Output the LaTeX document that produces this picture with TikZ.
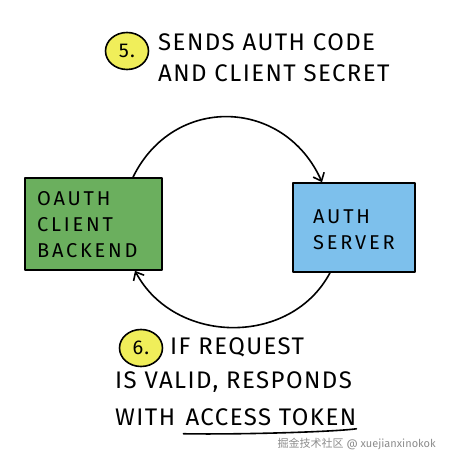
\documentclass[tikz,border=0pt]{standalone}
\usepackage{fontspec}
\setmainfont{Fira Sans}
\newfontfamily\notefont[LetterSpace=6]{Fira Sans}
\newfontfamily\boxfont[LetterSpace=14]{Fira Sans}
\newfontfamily\cjk{Noto Sans CJK SC}
\usetikzlibrary{arrows.meta,positioning,calc,shapes.geometric}

\definecolor{clientgreen}{HTML}{6BAF5E}
\definecolor{serverblue}{HTML}{7DC0EC}
\definecolor{stepyellow}{HTML}{F0EE5A}

\begin{document}
\begin{tikzpicture}[
        x=1pt, y=1pt,
        hand/.style={line width=1.6pt, draw=black, line cap=round, line join=round},
        stepno/.style={hand, ellipse, fill=stepyellow, inner sep=0pt,
            minimum width=43pt, minimum height=37pt, font=\notefont\fontsize{20}{20}\selectfont},
        note/.style={align=left, inner sep=0pt, font=\notefont\fontsize{24}{31}\selectfont},
        boxtext/.style={align=left, inner sep=0pt, font=\boxfont\fontsize{20}{26}\selectfont},
        arr/.style={hand, -{Straight Barb[length=7pt,width=12pt,line width=1.6pt]}}
    ]
    \useasboundingbox (0,0) rectangle (448,463);

    % the two parties
    \node[hand, fill=clientgreen, minimum width=137pt, minimum height=92pt] (client) at (93.5,239) {};
    \node[boxtext, anchor=west] (clienttxt) at (37,238) {OAUTH\\CLIENT\\BACKEND};
    \node[hand, fill=serverblue, minimum width=122pt, minimum height=89pt] (authsrv) at (354,235.5) {};
    \node[boxtext, anchor=west] (authtxt) at (313,233) {AUTH\\SERVER};

    % step 5
    \node[stepno] (stepfive) at (127,412) {5.};
    \node[note, anchor=west] (sendtxt) at (158,405) {SENDS AUTH CODE\\AND CLIENT SECRET};

    % step 6
    \node[stepno] (stepsix) at (141,115) {6.};
    \node[note, anchor=west] (ifreq) at (170,116) {IF REQUEST};
    \node[note, anchor=west] (valid) at (115,81) {IS VALID, RESPONDS};
    \node[note, anchor=west] (with) at (115,46) {WITH};
    \node[note, right=10pt of with] (token) {ACCESS TOKEN};
    \draw[hand] ([xshift=-2pt,yshift=-8pt]token.south west)
        .. controls ($(token.south)+(-30,-9)$) and ($(token.south east)+(-20,-6)$)
        .. ([xshift=0pt,yshift=-3pt]token.south east);

    % the round trip
    \draw[arr] ([xshift=39.5pt]client.north) to[out=64, in=114, looseness=1.25] ([xshift=-32pt]authsrv.north);
    \draw[arr] ([xshift=-24pt]authsrv.south) to[out=242, in=-62, looseness=1.1] ([xshift=41.5pt]client.south);

    % watermark
    \node[anchor=east, inner sep=0pt, text=black!45, font=\fontsize{11}{11}\selectfont] (mark) at (436,19) {{\cjk 掘金技术社区} @ xuejianxinokok};
\end{tikzpicture}
\end{document}
